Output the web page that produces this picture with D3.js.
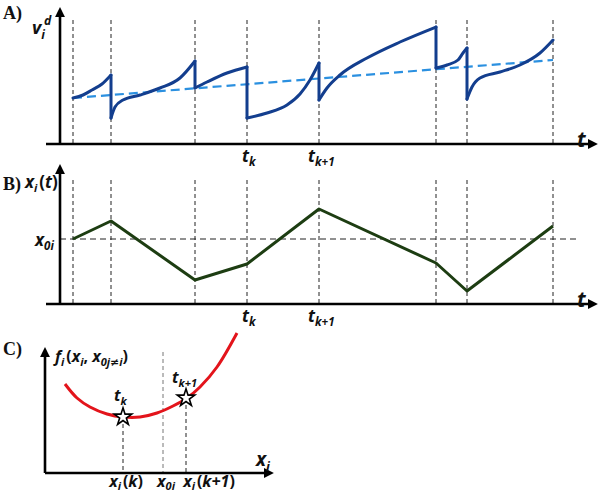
<!DOCTYPE html>
<html>
<head>
<meta charset="utf-8">
<script src="https://cdn.jsdelivr.net/npm/d3@7"></script>
<style>
  body { margin: 0; background: #fff; }
  svg { display: block; }
  .var { font-family: "Open Sans", "Liberation Sans", sans-serif; font-weight: bold; font-style: italic; fill: #111; }
  .panel { font-family: "Liberation Serif", "Times New Roman", serif; font-weight: bold; font-size: 18px; fill: #111; }
</style>
</head>
<body>
<div id="chart"></div>
<script>
// event times (sampling instants) shared by panels A and B
const eventTimes = [13, 51, 135, 187, 259, 376, 407, 493];
const tkIndex = 3;      // t_k
const tk1Index = 4;     // t_{k+1}

// panel A: v_i^d, one smooth piece between consecutive events
const vSegments = [
  [[13, 46], [23, 49], [32, 54], [42, 60], [51, 69]],
  [[51, 26], [55, 37], [63, 44], [80, 49], [100, 56], [120, 66], [135, 83]],
  [[135, 56], [147, 62], [167, 71], [187, 77]],
  [[187, 26], [207, 31], [227, 39], [240, 50], [250, 64], [259, 81]],
  [[259, 44], [267, 56], [280, 69], [307, 86], [340, 102], [376, 117]],
  [[376, 76], [387, 79], [398, 84], [403, 91], [407, 96]],
  [[407, 45], [412, 57], [420, 66], [440, 72], [460, 79], [480, 91], [493, 104]]
];
const vTrend = [[13, 46], [493, 84]];

// panel B: x_i(t)
const xPath = [[13, 65], [51, 83], [135, 24], [187, 40], [259, 95], [376, 41], [407, 13], [493, 78]];
const x0i = 65;

// panel C: f_i(x_i, x_0j≠i)
const fCurve = [[20, 89], [32, 75], [45, 66], [62, 59], [78, 56], [95, 56], [112, 60], [128, 67], [142, 75], [155, 86], [172, 106], [192, 140]];
const fStars = [{ x: 78, y: 56, label: 'k' }, { x: 141, y: 75, label: 'k+1' }];
const fX0 = 118;

const width = 603, height = 496;
const svg = d3.select('#chart').append('svg').attr('width', width).attr('height', height);

const defs = svg.append('defs');
defs.append('marker')
  .attr('id', 'arrow')
  .attr('viewBox', '0 0 10 10')
  .attr('refX', 2).attr('refY', 5)
  .attr('markerWidth', 4.4).attr('markerHeight', 3.8)
  .attr('orient', 'auto')
  .attr('markerUnits', 'strokeWidth')
  .append('path').attr('d', 'M0,0 L10,5 L0,10 Z').attr('fill', '#000');

// time scale shared by A and B
const x = d3.scaleLinear().domain([0, 540]).range([60, 600]);

function axes(gx0, gx1, gy, yTop, yAxisX) {
  svg.append('line').attr('x1', gx0).attr('x2', gx1).attr('y1', gy).attr('y2', gy)
    .attr('stroke', '#000').attr('stroke-width', 2.6).attr('marker-end', 'url(#arrow)');
  svg.append('line').attr('x1', yAxisX).attr('x2', yAxisX).attr('y1', gy).attr('y2', yTop)
    .attr('stroke', '#000').attr('stroke-width', 2.6).attr('marker-end', 'url(#arrow)');
}

function eventLines(y, top) {
  svg.append('g').selectAll('line').data(eventTimes).join('line')
    .attr('x1', d => x(d)).attr('x2', d => x(d))
    .attr('y1', y(top)).attr('y2', y(0))
    .attr('stroke', '#222').attr('stroke-width', 1).attr('stroke-dasharray', '4,3');
}

function subLabel(px, py, main, sub, size, sup) {
  const t = svg.append('text').attr('class', 'var').attr('x', px).attr('y', py).attr('font-size', size);
  t.append('tspan').text(main);
  if (sub) t.append('tspan').attr('font-size', size * 0.68).attr('dy', size * 0.25).text(sub);
  if (sup) t.append('tspan').attr('font-size', size * 0.68).attr('dx', -1).attr('dy', -size * 0.75).text(sup);
  return t;
}

// ---------- panel A ----------
const yA = d3.scaleLinear().domain([0, 124]).range([144, 20]);
eventLines(yA, 124);
axes(46, 590, 144, 15, 60);

svg.append('path')
  .attr('d', d3.line().x(d => x(d[0])).y(d => yA(d[1]))(vTrend))
  .attr('fill', 'none').attr('stroke', '#2b90e0').attr('stroke-width', 2.2).attr('stroke-dasharray', '9,5');

const smooth = d3.line().x(d => x(d[0])).y(d => yA(d[1])).curve(d3.curveMonotoneX);
svg.append('g').selectAll('path').data(vSegments).join('path')
  .attr('d', smooth)
  .attr('fill', 'none').attr('stroke', '#133e8e').attr('stroke-width', 3).attr('stroke-linecap', 'round');
// vertical resets at each event
svg.append('g').selectAll('line').data(d3.range(1, vSegments.length)).join('line')
  .attr('x1', i => x(vSegments[i][0][0])).attr('x2', i => x(vSegments[i][0][0]))
  .attr('y1', i => yA(vSegments[i - 1][vSegments[i - 1].length - 1][1]))
  .attr('y2', i => yA(vSegments[i][0][1]))
  .attr('stroke', '#133e8e').attr('stroke-width', 3).attr('stroke-linecap', 'round');

svg.append('text').attr('class', 'panel').attr('x', 3).attr('y', 19).text('A)');
subLabel(32, 34, 'v', 'i', 18, 'd');
subLabel(577, 147, 't', null, 21);
subLabel(x(eventTimes[tkIndex]) - 5, 162, 't', 'k', 17);
subLabel(x(eventTimes[tk1Index]) - 11, 162, 't', 'k+1', 17);

// ---------- panel B ----------
const yB = d3.scaleLinear().domain([0, 124]).range([304, 180]);
eventLines(yB, 124);
svg.append('line').attr('x1', 60).attr('x2', 580).attr('y1', yB(x0i)).attr('y2', yB(x0i))
  .attr('stroke', '#222').attr('stroke-width', 1).attr('stroke-dasharray', '6,4');
axes(46, 590, 304, 172, 60);

svg.append('path')
  .attr('d', d3.line().x(d => x(d[0])).y(d => yB(d[1]))(xPath))
  .attr('fill', 'none').attr('stroke', '#1d3d12').attr('stroke-width', 3).attr('stroke-linejoin', 'round');

svg.append('text').attr('class', 'panel').attr('x', 3).attr('y', 190).text('B)');
const xl = svg.append('text').attr('class', 'var').attr('x', 25).attr('y', 188).attr('font-size', 17);
xl.append('tspan').text('x');
xl.append('tspan').attr('font-size', 11).attr('dy', 4).text('i');
xl.append('tspan').attr('dy', -4).attr('dx', 2).style('font-style', 'normal').text('(');
xl.append('tspan').text('t');
xl.append('tspan').style('font-style', 'normal').text(')');
subLabel(35, 246, 'x', '0i', 17);
subLabel(577, 307, 't', null, 21);
subLabel(x(eventTimes[tkIndex]) - 5, 322, 't', 'k', 17);
subLabel(x(eventTimes[tk1Index]) - 11, 322, 't', 'k+1', 17);

// ---------- panel C ----------
const xC = d3.scaleLinear().domain([0, 227]).range([45, 272]);
const yC = d3.scaleLinear().domain([0, 125]).range([473, 348]);

svg.append('line').attr('x1', xC(fX0)).attr('x2', xC(fX0)).attr('y1', yC(121)).attr('y2', yC(0))
  .attr('stroke', '#777').attr('stroke-width', 1).attr('stroke-dasharray', '4,3');
svg.append('g').selectAll('line').data(fStars).join('line')
  .attr('x1', d => xC(d.x)).attr('x2', d => xC(d.x))
  .attr('y1', d => yC(d.y)).attr('y2', yC(0))
  .attr('stroke', '#222').attr('stroke-width', 1).attr('stroke-dasharray', '4,3');
axes(45, 266, 473, 355, 45);

svg.append('path')
  .attr('d', d3.line().x(d => xC(d[0])).y(d => yC(d[1])).curve(d3.curveCatmullRom.alpha(0.5))(fCurve))
  .attr('fill', 'none').attr('stroke', '#e3141b').attr('stroke-width', 3);

svg.append('g').selectAll('path').data(fStars).join('path')
  .attr('transform', d => `translate(${xC(d.x)},${yC(d.y)})`)
  .attr('d', d3.symbol(d3.symbolStar, 95))
  .attr('fill', '#fff').attr('stroke', '#000').attr('stroke-width', 1.6);

subLabel(xC(fStars[0].x) - 9, 401, 't', 'k', 16);
subLabel(xC(fStars[1].x) - 14, 383, 't', 'k+1', 16);

svg.append('text').attr('class', 'panel').attr('x', 3).attr('y', 355).text('C)');
const fl = svg.append('text').attr('class', 'var').attr('x', 55).attr('y', 362).attr('font-size', 16);
fl.append('tspan').text('f');
fl.append('tspan').attr('font-size', 11).attr('dy', 4).text('i');
fl.append('tspan').attr('dy', -4).attr('dx', 2).style('font-style', 'normal').text('(');
fl.append('tspan').text('x');
fl.append('tspan').attr('font-size', 11).attr('dy', 4).text('i');
fl.append('tspan').attr('dy', -4).style('font-style', 'normal').text(', ');
fl.append('tspan').text('x');
fl.append('tspan').attr('font-size', 11).attr('dy', 4).text('0j');
fl.append('tspan').attr('font-size', 11).style('font-family', '"DejaVu Sans", sans-serif').style('font-style', 'normal').text('≠');
fl.append('tspan').attr('font-size', 11).text('i');
fl.append('tspan').attr('dy', -4).style('font-style', 'normal').text(')');

subLabel(256, 466, 'x', 'i', 19);

function argLabel(cx, main, sub, arg) {
  const t = svg.append('text').attr('class', 'var').attr('x', cx).attr('y', 487).attr('font-size', 16).attr('text-anchor', 'middle');
  t.append('tspan').text(main);
  t.append('tspan').attr('font-size', 11).attr('dy', 3).text(sub);
  if (arg) {
    t.append('tspan').attr('dy', -3).attr('dx', 2).style('font-style', 'normal').text('(');
    t.append('tspan').text(arg);
    t.append('tspan').style('font-style', 'normal').text(')');
  }
}
argLabel(xC(fStars[0].x) + 3, 'x', 'i', 'k');
argLabel(xC(fX0) + 3, 'x', '0i', null);
argLabel(xC(fStars[1].x) + 23, 'x', 'i', 'k+1');
</script>
</body>
</html>
